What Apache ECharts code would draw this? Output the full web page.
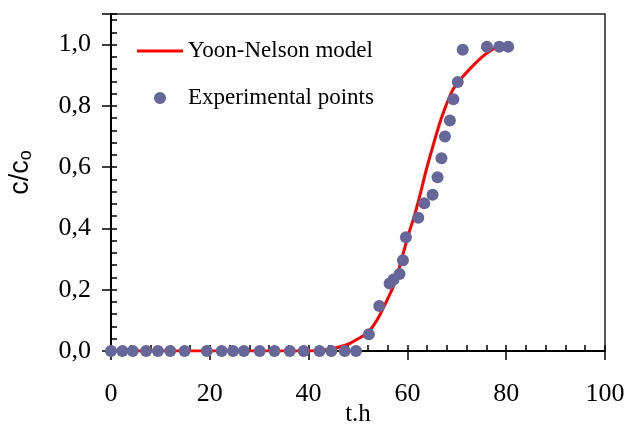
<!DOCTYPE html>
<html>
<head>
<meta charset="utf-8">
<script src="https://cdn.jsdelivr.net/npm/echarts@6/dist/echarts.min.js"></script>
<style>
  html, body { margin: 0; padding: 0; background: #fff; }
  #chart { width: 627px; height: 425px; }
</style>
</head>
<body>
<div id="chart"></div>
<script>
// experimental points, [t (h), c/c0]
var pointsT = [0, 2.3, 4.4, 7.1, 9.5, 12.0, 14.9, 19.4, 22.4, 24.7, 26.9, 30.1, 33.1, 36.2, 39.0, 42.2, 44.6, 47.3, 49.6,
  52.2, 54.3, 56.4, 57.2, 58.4, 59.1, 59.7, 62.2, 63.4, 65.1, 66.1, 66.9, 67.6, 68.6, 69.3, 70.2, 71.2, 76.1, 78.6, 80.4];
var pointsC = [0, 0, 0, 0, 0, 0, 0, 0, 0, 0, 0, 0, 0, 0, 0, 0, 0, 0, 0,
  0.055, 0.147, 0.22, 0.233, 0.251, 0.296, 0.371, 0.435, 0.482, 0.51, 0.567, 0.629, 0.70, 0.752, 0.822, 0.878, 0.983, 0.993, 0.993, 0.993];

// Yoon-Nelson model curve
var modelT = [0, 20, 40, 43, 45, 48, 50, 52, 54, 56, 57.4, 59, 60.4, 61.4, 62.8, 63.8, 65.1, 66, 67.1, 69.1, 71.2, 73.2, 75.2, 77.6, 79.5];
var modelC = [0, 0, 0, 0.003, 0.008, 0.022, 0.04, 0.06, 0.105, 0.17, 0.22, 0.31, 0.39, 0.44, 0.525, 0.59, 0.665, 0.715, 0.77, 0.85, 0.895, 0.93, 0.961, 0.988, 0.993];

var xTickLabels = ['0', '20', '40', '60', '80', '100'];
var yTickLabels = ['0,0', '0,2', '0,4', '0,6', '0,8', '1,0'];

var chart = echarts.init(document.getElementById('chart'));

var font = 'Liberation Serif';

option = {
    animation: false,
    grid: {
        left: 111,
        right: 22,
        top: 14,
        bottom: 74,
        outerBoundsMode: 'none',
        show: true,
        borderColor: '#222',
        borderWidth: 1.5
    },
    legend: {
        orient: 'vertical',
        left: 137,
        top: 39,
        padding: 0,
        itemWidth: 46,
        itemHeight: 12,
        itemGap: 23,
        textStyle: {
            fontFamily: font,
            fontSize: 23,
            color: '#000',
            lineHeight: 24
        },
        data: [
            { name: 'Yoon-Nelson model', icon: 'path://M0,0 L46,0 L46,3 L0,3 Z' },
            { name: 'Experimental points', icon: 'circle' }
        ]
    },
    xAxis: [{
        type: 'value',
        min: 0,
        max: 100,
        interval: 20,
        name: 't.h',
        nameLocation: 'middle',
        nameGap: 51,
        nameMoveOverlap: false,
        nameTextStyle: { fontFamily: font, fontSize: 25, color: '#000' },
        axisLine: { lineStyle: { color: '#000', width: 2 } },
        axisTick: { inside: true, length: 6, lineStyle: { color: '#000', width: 1.5 } },
        minorTick: { show: true, splitNumber: 5, length: 6, lineStyle: { color: '#000', width: 1.5 } },
        splitLine: { show: false },
        axisLabel: {
            margin: 30,
            fontFamily: font,
            fontSize: 26,
            color: '#000',
            formatter: function (v) { return xTickLabels[Math.round(v / 20)]; }
        }
    }, {
        type: 'value',
        min: 0,
        max: 100,
        interval: 20,
        position: 'bottom',
        axisLine: { show: false },
        axisTick: { inside: false, length: 9, lineStyle: { color: '#000', width: 1.5 } },
        splitLine: { show: false },
        axisLabel: { show: false }
    }],
    yAxis: [{
        type: 'value',
        min: 0,
        max: 1.1,
        interval: 0.2,
        name: 'c/c{sub|o}',
        nameLocation: 'middle',
        nameGap: 76,
        nameMoveOverlap: false,
        nameTextStyle: {
            fontFamily: 'Liberation Sans',
            fontSize: 27,
            color: '#000',
            padding: [0, 0, 0, 20],
            rich: {
                sub: { fontFamily: 'Liberation Sans', fontSize: 18, color: '#000', verticalAlign: 'bottom', padding: [10, 0, 0, 0] }
            }
        },
        axisLine: { lineStyle: { color: '#000', width: 2 } },
        axisTick: { inside: true, length: 6, lineStyle: { color: '#000', width: 1.5 } },
        minorTick: { show: true, splitNumber: 5, length: 6, lineStyle: { color: '#000', width: 1.5 } },
        splitLine: { show: false },
        axisLabel: {
            margin: 20,
            fontFamily: font,
            fontSize: 26,
            color: '#000',
            showMaxLabel: false,
            formatter: function (v) { return yTickLabels[Math.round(v / 0.2)]; }
        }
    }, {
        type: 'value',
        min: 0,
        max: 1.1,
        interval: 0.2,
        position: 'left',
        axisLine: { show: false },
        axisTick: { inside: false, length: 9, lineStyle: { color: '#000', width: 1.5 } },
        splitLine: { show: false },
        axisLabel: { show: false }
    }],
    series: [{
        name: 'Yoon-Nelson model',
        type: 'line',
        smooth: 0.3,
        symbol: 'none',
        lineStyle: { color: '#ff0000', width: 3 },
        itemStyle: { color: '#ff0000' },
        z: 2,
        data: modelT.map(function (t, i) { return [t, modelC[i]]; })
    }, {
        name: 'Experimental points',
        type: 'scatter',
        symbol: 'circle',
        symbolSize: 12,
        clip: false,
        itemStyle: { color: '#666699', opacity: 1 },
        z: 3,
        data: pointsT.map(function (t, i) { return [t, pointsC[i]]; })
    }]
};

chart.setOption(option);
</script>
</body>
</html>
